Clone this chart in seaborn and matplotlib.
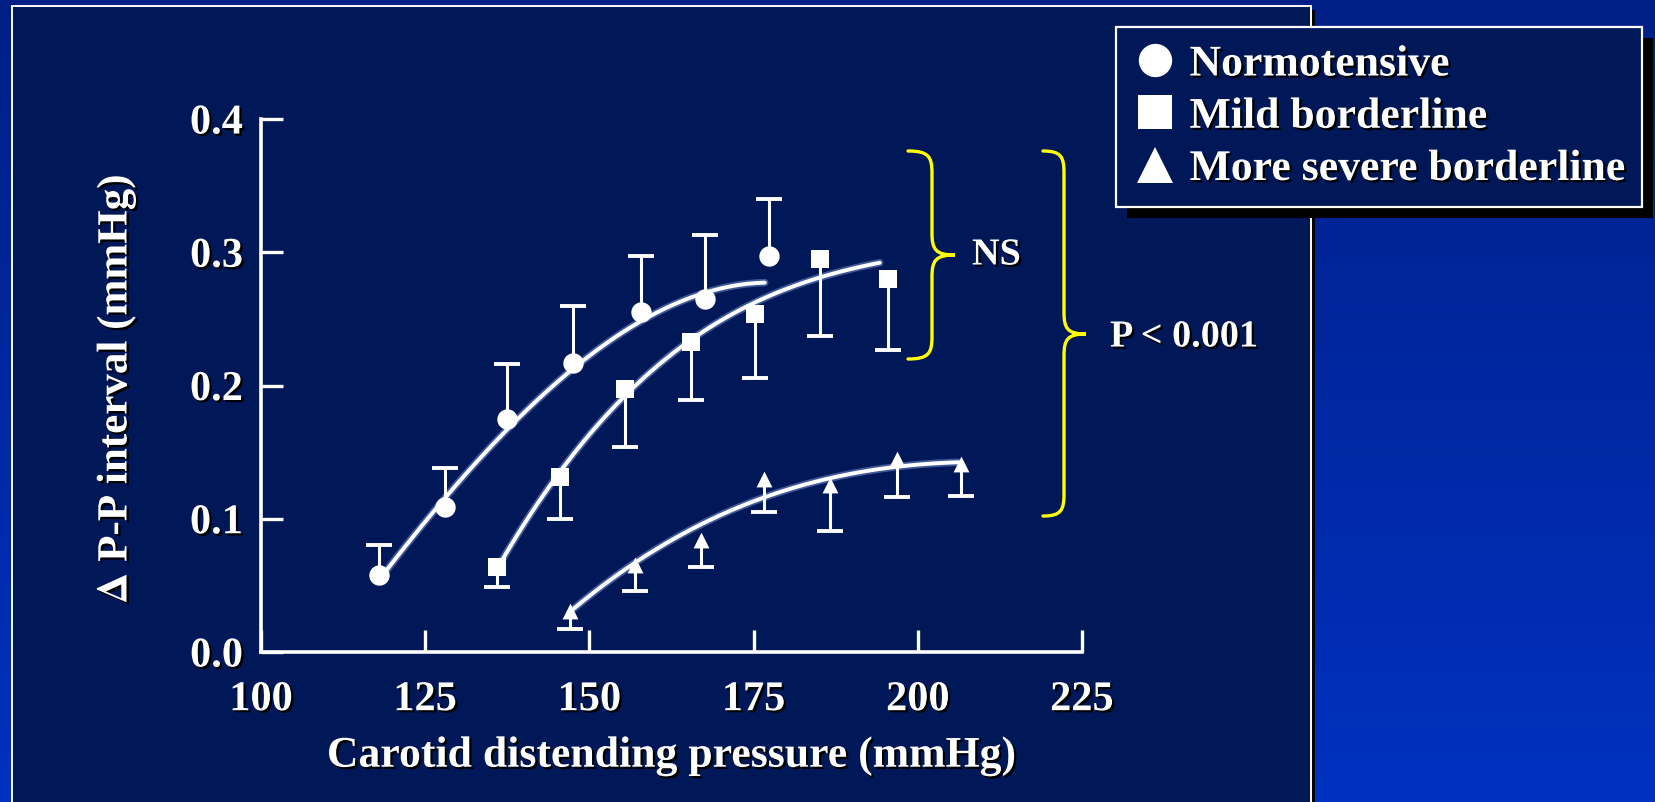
import numpy as np
import pandas as pd
import matplotlib
matplotlib.use("Agg")
import matplotlib.pyplot as plt
import matplotlib.patheffects as pe
from matplotlib.patches import Rectangle, PathPatch
from matplotlib.path import Path
from matplotlib.lines import Line2D
from matplotlib.ticker import FormatStrFormatter
import seaborn as sns

# ---------------- data ----------------
groups = ["Normotensive", "Mild borderline", "More severe borderline"]

norm_x = [118.0, 128.0, 137.5, 147.5, 157.8, 167.6, 177.4]
norm_y = [0.058, 0.109, 0.175, 0.217, 0.255, 0.265, 0.297]
norm_err_up = [0.022, 0.029, 0.041, 0.043, 0.042, 0.048, 0.043]

mild_x = [136.0, 145.5, 155.4, 165.5, 175.2, 185.1, 195.5]
mild_y = [0.064, 0.131, 0.197, 0.233, 0.254, 0.295, 0.280]
mild_err_low = [0.015, 0.031, 0.043, 0.044, 0.048, 0.058, 0.053]

sev_x = [147.1, 156.9, 167.0, 176.6, 186.7, 196.9, 206.6]
sev_y = [0.031, 0.065, 0.084, 0.130, 0.125, 0.145, 0.141]
sev_err_low = [0.014, 0.019, 0.020, 0.025, 0.034, 0.029, 0.024]

# fitted curves as drawn in the figure
norm_curve_x = [118.0, 128.2, 137.6, 147.5, 151.6, 157.8, 167.6, 176.7]
norm_curve_y = [0.057, 0.108, 0.174, 0.215, 0.226, 0.249, 0.266, 0.279]
mild_curve_x = [136.0, 145.5, 155.4, 165.5, 175.2, 185.1, 194.2]
mild_curve_y = [0.064, 0.131, 0.197, 0.233, 0.261, 0.282, 0.292]
sev_curve_x = [147.6, 156.9, 167.0, 176.6, 186.7, 196.9, 206.2]
sev_curve_y = [0.032, 0.068, 0.095, 0.116, 0.130, 0.140, 0.142]

x_ticks = [100, 125, 150, 175, 200, 225]
y_ticks = [0.0, 0.1, 0.2, 0.3, 0.4]
x_label = "Carotid distending pressure (mmHg)"
y_label = r"$\mathrm{\Delta}$ P-P interval (mmHg)"
ns_text = "NS"
p_text = "P < 0.001"

# ---------------- style ----------------
sns.set_theme(style="ticks")
plt.rcParams["font.family"] = ["Liberation Serif", "DejaVu Serif"]
plt.rcParams["font.weight"] = "bold"
plt.rcParams["mathtext.fontset"] = "stix"

W, H = 1655, 803
fig = plt.figure(figsize=(W / 100, H / 100), dpi=100)

NAVY = "#001858"
WHITE = "white"
shadow = [pe.withSimplePatchShadow(offset=(1.6, -1.6), shadow_rgbFace="black", alpha=1.0)]
glow = [pe.Stroke(linewidth=5.4, foreground="#8aa6e6", alpha=0.45), pe.Normal()]

# background (pixel coordinates)
bg = fig.add_axes([0, 0, 1, 1], zorder=-10)
bg.set_xlim(0, W)
bg.set_ylim(H, 0)
bg.axis("off")
grad = np.linspace(0, 1, 256).reshape(-1, 1)
cmap = matplotlib.colors.LinearSegmentedColormap.from_list("bgc", ["#001f86", "#0031c0"])
bg.imshow(grad, cmap=cmap, aspect="auto", extent=[0, W, H, 0], zorder=0)
bg.add_patch(Rectangle((16, 11), 1299, 800, facecolor="black", edgecolor="none", zorder=1))
bg.add_patch(Rectangle((12, 7), 1299, 800, facecolor=NAVY, edgecolor=WHITE, lw=1.4, zorder=2))


def brace(ax_, x_tip, x_sp, x_pt, y_top, y_bot, y_mid, r):
    verts = [
        (x_tip, y_top),
        (x_tip + 0.85 * (x_sp - x_tip), y_top), (x_sp, y_top + 0.25 * r), (x_sp, y_top + r),
        (x_sp, y_mid - r),
        (x_sp, y_mid - 0.25 * r), (x_sp + 0.15 * (x_pt - x_sp), y_mid), (x_pt, y_mid),
        (x_sp + 0.15 * (x_pt - x_sp), y_mid), (x_sp, y_mid + 0.25 * r), (x_sp, y_mid + r),
        (x_sp, y_bot - r),
        (x_sp, y_bot - 0.25 * r), (x_tip + 0.85 * (x_sp - x_tip), y_bot), (x_tip, y_bot),
    ]
    codes = [Path.MOVETO] + [Path.CURVE4] * 3 + [Path.LINETO] + [Path.CURVE4] * 6 + \
            [Path.LINETO] + [Path.CURVE4] * 3
    ax_.add_patch(PathPatch(Path(verts, codes), facecolor="none", edgecolor="#ffff00",
                            lw=2.4, zorder=5, capstyle="round"))


brace(bg, 908, 932, 955, 152, 360, 256, 22)
brace(bg, 1043, 1064, 1086, 152, 517, 335, 22)
bg.text(972, 256, ns_text, color=WHITE, fontsize=27.5, fontweight="bold",
        ha="left", va="center", zorder=6, path_effects=shadow)
bg.text(1110, 338, p_text, color=WHITE, fontsize=27.5, fontweight="bold",
        ha="left", va="center", zorder=6, path_effects=shadow)

# ---------------- main axes ----------------
ax = fig.add_axes([261 / W, 1 - 653 / H, (1082 - 261) / W, (653 - 120) / H])
ax.set_facecolor("none")

LW = 2.8
series = [
    (norm_x, norm_y, norm_curve_x, norm_curve_y, "o", 215),
    (mild_x, mild_y, mild_curve_x, mild_curve_y, "s", 160),
    (sev_x, sev_y, sev_curve_x, sev_curve_y, "^", 130),
]
for xs, ys, cx, cy, mk, sz in series:
    cdf = pd.DataFrame({"x": cx, "y": cy})
    sns.regplot(data=cdf, x="x", y="y", order=3, ci=None, scatter=False, truncate=True,
                ax=ax, line_kws=dict(color=WHITE, lw=LW, path_effects=glow, zorder=3))
    df = pd.DataFrame({"x": xs, "y": ys})
    sns.scatterplot(data=df, x="x", y="y", marker=mk, s=sz, color=WHITE,
                    edgecolor=WHITE, linewidth=0, ax=ax, zorder=4, legend=False)

# error bars (one-sided) + caps
nx, ny = np.array(norm_x), np.array(norm_y)
ax.errorbar(nx, ny, yerr=[np.zeros(len(nx)), norm_err_up], fmt="none",
            ecolor=WHITE, elinewidth=2.2, capsize=0, zorder=3)
ax.plot(nx, ny + np.array(norm_err_up), ls="none", marker="_", ms=19, mew=2.8, color=WHITE, zorder=3)

for xs, ys, el in [(mild_x, mild_y, mild_err_low), (sev_x, sev_y, sev_err_low)]:
    xs, ys, el = np.array(xs), np.array(ys), np.array(el)
    ax.errorbar(xs, ys, yerr=[el, np.zeros(len(xs))], fmt="none",
                ecolor=WHITE, elinewidth=2.2, capsize=0, zorder=3)
    ax.plot(xs, ys - el, ls="none", marker="_", ms=19, mew=2.8, color=WHITE, zorder=3)

ax.set_xlim(100, 225)
ax.set_ylim(0, 0.4)
ax.set_xticks(x_ticks)
ax.set_yticks(y_ticks)
ax.yaxis.set_major_formatter(FormatStrFormatter("%.1f"))
for s in ["top", "right"]:
    ax.spines[s].set_visible(False)
for s in ["left", "bottom"]:
    ax.spines[s].set_color(WHITE)
    ax.spines[s].set_linewidth(2.6)
ax.tick_params(axis="both", direction="in", length=16, width=2.4, color=WHITE,
               labelcolor=WHITE, labelsize=30.5)
ax.tick_params(axis="y", pad=13)
ax.tick_params(axis="x", pad=21)
for lab in ax.get_xticklabels() + ax.get_yticklabels():
    lab.set_fontweight("bold")
    lab.set_path_effects(shadow)

ax.set_xlabel(x_label, fontsize=31.5, fontweight="bold", color=WHITE, va="center",
              path_effects=shadow)
ax.xaxis.set_label_coords(0.4994, -0.195)
ax.set_ylabel(y_label, fontsize=31, fontweight="bold", color=WHITE, va="center",
              path_effects=shadow)
ax.yaxis.set_label_coords(-0.1757, 0.493)

# legend
handles = [Line2D([], [], ls="none", marker=m, ms=ms, color=WHITE, mew=0)
           for m, ms in zip(["o", "s", "^"], [24, 24, 26])]
leg = ax.legend(handles, groups, loc="upper left",
                bbox_to_anchor=(1116 / W, 1 - 28 / H), bbox_transform=fig.transFigure,
                borderaxespad=0, frameon=True, fancybox=False, framealpha=1,
                facecolor=NAVY, edgecolor=WHITE,
                prop=dict(family="Liberation Serif", weight="bold", size=31.5),
                handlelength=0.98, handletextpad=0.3, labelspacing=0.28, borderpad=0.4)
leg.get_frame().set_linewidth(1.6)
for t in leg.get_texts():
    t.set_color(WHITE)
    t.set_path_effects(shadow)
leg.set_zorder(20)
# legend drop shadow
fig.canvas.draw()
bb = leg.get_window_extent()
bg.add_patch(Rectangle((bb.x0 + 11, H - bb.y1 + 11), bb.width, bb.height,
                       facecolor="black", edgecolor="none", zorder=7))

fig.savefig("out.png", dpi=100, facecolor=fig.get_facecolor())
